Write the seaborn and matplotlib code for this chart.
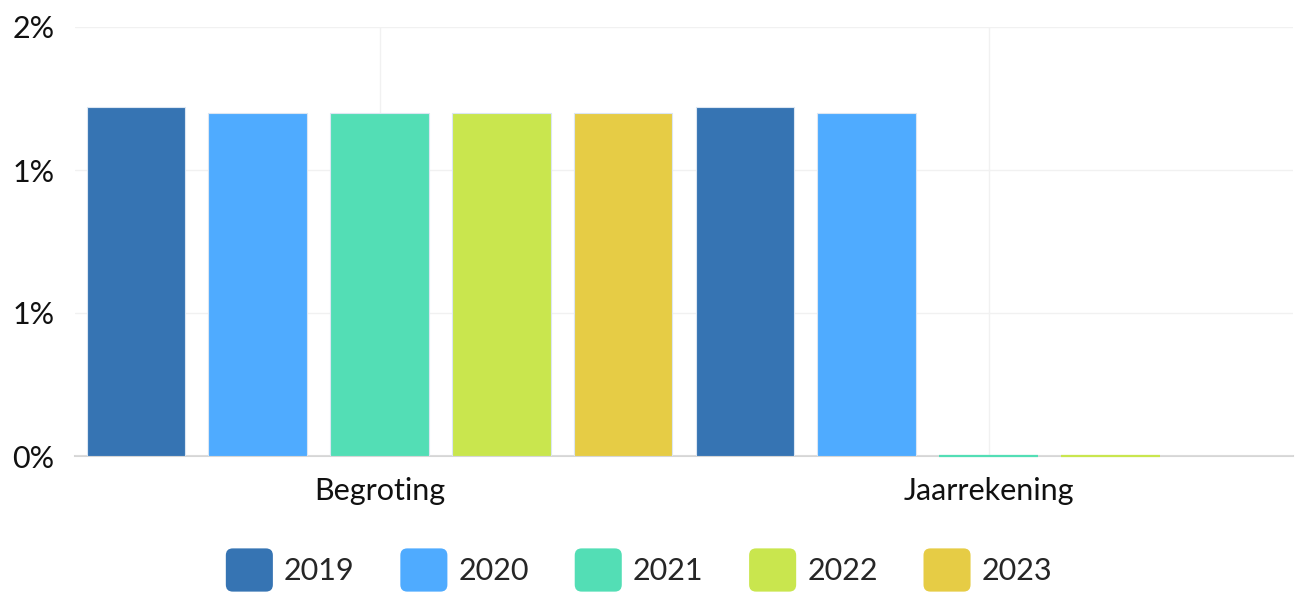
import math
import matplotlib
matplotlib.use("Agg")
import matplotlib.pyplot as plt
import matplotlib.patches as mpatches
from matplotlib.legend_handler import HandlerPatch
from matplotlib.ticker import FixedLocator, FuncFormatter
import numpy as np
import pandas as pd
import seaborn as sns

categories = ["Begroting", "Jaarrekening"]
years = ["2019", "2020", "2021", "2022", "2023"]
begroting = [1.22, 1.20, 1.20, 1.20, 1.20]
jaarrekening = [1.22, 1.20, 0.0, 0.0, np.nan]
colors = ["#3674B3", "#4FABFF", "#53DEB5", "#C9E64E", "#E6CC45"]
y_ticks = [0, 0.5, 1.0, 1.5]

rows = []
for cat, vals in zip(categories, [begroting, jaarrekening]):
    for yr, v in zip(years, vals):
        rows.append({"categorie": cat, "jaar": yr, "waarde": v})
df = pd.DataFrame(rows)

sns.set_theme(style="white")
plt.rcParams["font.family"] = ["Lato", "DejaVu Sans"]

fig = plt.figure(figsize=(12.98, 5.97), dpi=100)
ax = fig.add_axes([75 / 1298, 1 - 456 / 597, (1293 - 75) / 1298, (456 - 27) / 597])

sns.barplot(data=df, x="categorie", y="waarde", hue="jaar", order=categories,
            hue_order=years, palette=colors, width=1.0, gap=0.19,
            saturation=1, errorbar=None, ax=ax, legend=False,
            edgecolor="#dbe6f2", linewidth=0.8)

# zero-valued bars show as a thin coloured line on the baseline
for cont, col in zip(ax.containers, colors):
    for bar in cont:
        if bar.get_height() == 0:
            x0 = bar.get_x()
            ax.plot([x0, x0 + bar.get_width()], [0, 0], color=col, lw=1.6,
                    solid_capstyle="butt", zorder=5, clip_on=False)

ax.set_xlim(-0.5, 1.5)
ax.set_ylim(0, 1.5)
ax.yaxis.set_major_locator(FixedLocator(y_ticks))
ax.yaxis.set_major_formatter(FuncFormatter(lambda v, p: f"{math.floor(v + 0.5)}%"))
ax.set_xlabel("")
ax.set_ylabel("")

ax.grid(True, axis="both", color="#f1f1f1", lw=1)
ax.set_axisbelow(True)
for s in ["top", "right", "left"]:
    ax.spines[s].set_visible(False)
ax.spines["bottom"].set_color("#d6d6d6")
ax.spines["bottom"].set_linewidth(1.5)
ax.spines["bottom"].set_zorder(0)

ax.tick_params(axis="y", length=0, pad=45, labelsize=22, labelcolor="#111111")
ax.tick_params(axis="x", length=0, pad=15, labelsize=22, labelcolor="#111111")
for lab in ax.get_yticklabels():
    lab.set_horizontalalignment("left")


class RoundedHandler(HandlerPatch):
    def create_artists(self, legend, orig_handle, xdescent, ydescent,
                       width, height, fontsize, trans):
        p = mpatches.FancyBboxPatch((-xdescent, -ydescent), width, height,
                                    boxstyle="round,pad=0,rounding_size=5",
                                    facecolor=orig_handle.get_facecolor(),
                                    edgecolor="none", transform=trans)
        return [p]


handles = [mpatches.Patch(facecolor=c, label=y) for c, y in zip(colors, years)]
fig.legend(handles=handles, loc="center", bbox_to_anchor=(0.4923, 1 - 570 / 597),
           ncol=5, frameon=False, fontsize=22, handlelength=1.54,
           handleheight=1.8, handletextpad=0.36, columnspacing=1.5,
           handler_map={mpatches.Patch: RoundedHandler()})

fig.savefig("out.png", dpi=100, facecolor="white")
